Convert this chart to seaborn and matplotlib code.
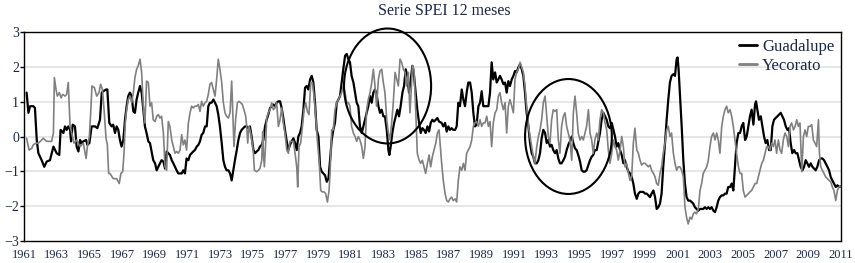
import matplotlib
matplotlib.use("Agg")
import matplotlib.pyplot as plt
from matplotlib.patches import Ellipse
import seaborn as sns
import pandas as pd

# ---------------- data ----------------
guad_year = [
    1961.16,1961.27,1961.37,1961.57,1961.67,1961.78,1961.88,1962.08,1962.24,1962.39,
    1962.59,1962.80,1963.00,1963.16,1963.24,1963.41,1963.51,1963.61,1963.71,1963.82,
    1963.88,1963.98,1964.12,1964.22,1964.33,1964.43,1964.53,1964.63,1964.80,1964.88,
    1965.00,1965.14,1965.35,1965.49,1965.65,1965.76,1965.86,1966.02,1966.10,1966.22,
    1966.36,1966.46,1966.57,1966.67,1966.77,1966.87,1966.97,1967.08,1967.18,1967.28,
    1967.38,1967.48,1967.59,1967.69,1967.79,1967.89,1967.99,1968.10,1968.20,1968.30,
    1968.40,1968.50,1968.61,1968.71,1968.81,1968.91,1969.02,1969.12,1969.22,1969.32,
    1969.42,1969.53,1969.63,1969.73,1969.83,1969.93,1970.04,1970.14,1970.24,1970.34,
    1970.44,1970.55,1970.65,1970.75,1970.85,1970.95,1971.06,1971.16,1971.26,1971.36,
    1971.46,1971.57,1971.67,1971.77,1971.87,1971.97,1972.08,1972.18,1972.28,1972.38,
    1972.48,1972.59,1972.69,1972.79,1972.89,1972.99,
    1973.10,1973.20,1973.30,1973.40,1973.51,1973.61,1973.71,1973.81,1973.91,1974.02,
    1974.12,1974.22,1974.32,1974.42,1974.53,1974.63,1974.73,1974.83,1974.93,1975.04,
    1975.14,1975.24,1975.34,1975.44,1975.55,1975.65,1975.75,1975.85,1975.95,1976.06,
    1976.16,1976.26,1976.36,1976.46,1976.57,1976.67,1976.77,1976.87,1976.97,1977.08,
    1977.18,1977.28,1977.38,1977.49,1977.59,1977.69,1977.79,1977.89,1977.99,1978.10,
    1978.20,1978.30,1978.40,1978.51,1978.61,1978.71,1978.81,1978.91,1979.02,1979.12,
    1979.22,1979.32,1979.42,1979.53,1979.63,1979.73,
    1979.83,1979.93,1980.03,1980.14,1980.24,1980.34,1980.44,1980.54,1980.65,1980.75,
    1980.85,1980.95,1981.05,1981.16,1981.26,1981.36,1981.46,1981.56,1981.67,1981.77,
    1981.87,1981.97,1982.07,1982.18,1982.28,1982.38,1982.48,1982.58,1982.69,1982.79,
    1982.89,1982.99,1983.09,1983.20,1983.30,1983.36,1983.44,1983.54,1983.65,1983.75,
    1983.85,1983.95,1984.05,1984.16,1984.26,1984.36,1984.46,1984.56,1984.67,1984.77,
    1984.87,1984.97,1985.07,1985.18,1985.28,1985.38,1985.48,1985.58,1985.69,1985.79,
    1985.89,1985.99,1986.09,1986.20,1986.30,1986.40,
    1986.56,1986.66,1986.77,1986.87,1986.97,1987.07,1987.17,1987.27,1987.38,1987.48,
    1987.58,1987.68,1987.79,1987.89,1987.99,1988.09,1988.19,1988.30,1988.40,1988.50,
    1988.60,1988.70,1988.81,1988.91,1989.01,1989.11,1989.21,1989.32,1989.42,1989.52,
    1989.62,1989.72,1989.83,1989.93,1990.03,1990.13,1990.23,1990.34,1990.44,1990.54,
    1990.64,1990.74,1990.85,1990.95,1991.05,1991.15,1991.25,1991.36,1991.46,1991.56,
    1991.66,1991.76,1991.87,1991.97,1992.07,1992.17,1992.27,1992.38,1992.48,1992.58,
    1992.68,1992.78,1992.89,1992.99,1993.09,1993.19,
    1993.29,1993.39,1993.50,1993.60,1993.70,1993.80,1993.90,1994.01,1994.11,1994.21,
    1994.31,1994.41,1994.52,1994.62,1994.72,1994.82,1994.92,1995.03,1995.13,1995.23,
    1995.33,1995.43,1995.54,1995.64,1995.74,1995.84,1995.94,1996.05,1996.15,1996.25,
    1996.35,1996.46,1996.56,1996.66,1996.76,1996.86,1996.97,1997.07,1997.17,1997.27,
    1997.37,1997.48,1997.58,1997.68,1997.78,1997.88,1997.99,1998.09,1998.19,1998.29,
    1998.39,1998.50,1998.60,1998.70,1998.80,1998.90,1999.01,1999.11,1999.21,1999.31,
    1999.41,1999.52,1999.62,1999.72,1999.82,1999.92,
    2000.02,2000.12,2000.23,2000.33,2000.43,2000.53,2000.63,2000.74,2000.84,2000.94,
    2001.00,2001.06,2001.14,2001.25,2001.35,2001.45,2001.55,2001.65,2001.76,2001.86,
    2001.96,2002.06,2002.16,2002.27,2002.37,2002.47,2002.57,2002.67,2002.78,2002.88,
    2002.98,2003.08,2003.19,2003.29,2003.39,2003.49,2003.59,2003.70,2003.80,2003.90,
    2004.00,2004.10,2004.21,2004.31,2004.41,2004.51,2004.61,2004.72,2004.82,
    2004.92,2005.02,2005.13,2005.23,2005.33,2005.43,2005.53,2005.64,2005.74,2005.80,
    2005.88,2005.98,2006.09,2006.19,2006.29,2006.39,2006.49,2006.60,2006.70,2006.80,
    2006.90,2007.00,2007.11,2007.21,2007.31,2007.41,2007.51,2007.62,2007.72,2007.82,
    2007.92,2008.02,2008.13,2008.23,2008.33,2008.43,2008.53,2008.64,2008.74,2008.84,
    2008.94,2009.04,2009.15,2009.25,2009.35,2009.45,2009.55,2009.66,2009.76,2009.86,
    2009.96,2010.06,2010.17,2010.27,2010.37,2010.47,2010.57,2010.68,2010.78,2010.88,
    2010.98,
]
guad_spei = [
    1.26,0.68,0.87,0.87,0.82,-0.10,-0.48,-0.68,-0.87,-0.72,
    -0.68,-0.29,-0.48,-0.53,0.19,0.10,0.29,0.19,0.29,0.19,
    -0.14,0.34,0.29,-0.29,-0.43,-0.10,-0.19,-0.14,-0.10,-0.24,
    -0.19,0.29,0.29,0.24,0.48,1.26,1.30,1.35,1.35,0.39,
    0.29,0.34,0.10,0.29,0.19,-0.10,-0.29,-0.10,0.48,0.87,
    1.16,1.26,1.16,0.72,0.68,1.06,1.26,1.45,1.26,0.77,
    0.29,0.10,-0.14,-0.19,-0.43,-0.68,-0.77,-0.97,-0.87,-0.77,
    -0.68,-0.72,-0.92,-0.43,-0.48,-0.53,-0.68,-0.77,-0.87,-0.97,
    -1.06,-1.06,-1.06,-0.97,-1.06,-0.63,-0.68,-0.53,-0.48,-0.43,
    -0.39,-0.29,-0.24,-0.14,0.05,0.10,0.29,0.29,0.87,0.97,
    0.97,1.06,0.97,0.87,0.63,0.29,
    -0.19,-0.68,-0.87,-0.97,-0.97,-1.06,-1.26,-0.97,-0.68,-0.39,
    -0.10,0.10,0.19,0.24,0.29,0.29,0.24,0.29,0.00,-0.39,
    -0.48,-0.43,-0.39,-0.29,-0.24,-0.10,0.29,0.48,0.63,0.82,
    0.87,0.92,0.87,0.97,1.01,1.01,0.82,0.53,0.19,-0.14,
    -0.39,-0.24,-0.14,-0.05,-0.19,-0.39,0.00,0.10,0.29,0.77,
    1.40,1.45,1.35,1.64,1.74,1.55,0.97,0.19,0.00,-0.87,
    -1.01,-1.06,-1.11,-1.30,-1.21,-0.68,
    -0.10,0.19,0.39,0.97,1.06,1.16,1.55,1.93,2.32,2.37,
    2.22,2.13,1.74,1.55,1.26,0.97,0.87,0.29,0.10,0.29,
    0.48,0.68,0.87,1.16,0.97,1.26,1.35,1.21,0.87,0.68,
    0.77,0.58,0.58,0.19,-0.39,-0.53,-0.29,0.10,0.39,0.58,
    0.77,0.58,0.87,1.26,1.45,1.93,1.74,1.26,1.64,2.03,
    1.74,1.26,0.77,0.39,0.10,0.24,0.19,0.10,0.29,0.14,
    0.39,0.48,0.43,0.48,0.53,0.43,
    0.39,0.29,0.39,0.14,0.29,0.19,0.24,0.19,0.19,0.29,
    0.97,0.87,1.35,1.06,0.87,1.26,1.55,1.55,1.26,0.68,
    0.29,0.34,0.87,0.97,1.30,0.87,0.87,0.87,0.87,1.26,
    2.13,1.64,1.84,1.55,1.64,1.74,1.64,1.50,1.55,1.26,
    1.59,1.45,1.64,1.74,1.88,1.84,1.98,2.08,1.93,1.74,
    1.26,0.68,0.29,-0.19,-0.48,-0.58,-0.77,-0.77,-0.68,-0.48,
    -0.05,0.19,0.10,-0.19,-0.10,-0.29,
    -0.24,-0.39,-0.48,-0.39,-0.63,-0.77,-0.77,-0.68,-0.58,-0.39,
    -0.24,-0.14,0.00,-0.19,-0.34,-0.39,-0.53,-0.72,-0.97,-1.01,
    -1.01,-0.97,-0.82,-0.68,-0.58,-0.53,-0.39,-0.39,-0.14,0.10,
    0.48,0.68,0.58,0.48,0.29,0.24,0.39,0.19,0.00,-0.29,
    -0.19,-0.39,-0.53,-0.77,-0.68,-0.87,-1.01,-1.06,-1.16,-1.35,
    -1.64,-1.79,-1.64,-1.59,-1.59,-1.59,-1.64,-1.64,-1.69,-1.74,
    -1.64,-1.55,-1.74,-2.08,-2.03,-1.93,
    -1.64,-0.87,-0.19,0.48,1.06,1.55,1.74,1.79,1.74,2.22,
    2.27,1.93,1.26,0.29,-0.68,-1.35,-1.74,-1.84,-1.84,-1.88,
    -1.93,-2.03,-2.08,-2.13,-2.08,-2.08,-2.08,-2.03,-2.08,-2.03,
    -2.08,-2.03,-2.13,-2.17,-2.03,-1.84,-1.74,-1.69,-1.69,-1.64,
    -1.64,-1.45,-1.45,-1.35,-1.55,-0.87,-0.19,0.10,0.10,
    0.29,0.39,-0.10,0.00,0.29,0.58,0.77,0.34,0.92,1.01,
    0.77,0.48,0.58,0.29,0.00,-0.19,-0.10,-0.39,-0.39,0.29,
    0.48,0.53,0.58,0.63,0.68,0.58,0.48,0.29,0.19,0.24,
    -0.19,-0.48,-0.39,-0.48,-0.48,-0.68,-0.87,-0.97,-0.87,-0.68,
    -0.77,-0.87,-0.77,-0.87,-0.92,-0.97,-0.87,-0.68,-0.63,-0.63,
    -0.68,-0.77,-0.87,-0.97,-1.16,-1.26,-1.35,-1.45,-1.40,-1.45,
    -1.43,
]

yeco_year = [
    1961.16,1961.31,1961.47,1961.57,1961.73,1961.88,1962.08,1962.18,1962.39,1962.55,
    1962.69,1962.80,1962.86,1962.96,1963.04,1963.16,1963.27,1963.37,1963.51,1963.61,
    1963.71,1963.82,1963.92,1964.06,1964.22,1964.43,1964.63,1964.80,1964.88,1965.00,
    1965.08,1965.16,1965.31,1965.45,1965.59,1965.69,1965.80,1965.90,1966.02,1966.10,
    1966.18,
    1966.26,1966.46,1966.67,1966.83,1966.93,1967.04,1967.12,1967.20,
    1967.28,1967.38,1967.48,1967.59,1967.69,1967.79,1967.89,1967.99,1968.10,1968.20,
    1968.30,1968.40,1968.50,1968.61,1968.71,1968.81,1968.91,1969.02,1969.12,1969.22,
    1969.32,1969.42,1969.53,1969.63,1969.73,1969.83,1969.93,1970.04,1970.14,1970.24,
    1970.34,1970.44,1970.55,1970.65,1970.75,1970.85,1970.95,1971.06,1971.16,1971.26,
    1971.36,1971.46,1971.57,1971.67,1971.77,1971.87,1971.97,1972.08,1972.18,1972.28,
    1972.38,1972.48,1972.59,1972.69,1972.79,1972.89,1972.99,
    1973.10,1973.20,1973.30,1973.40,1973.51,1973.61,1973.71,1973.77,1973.85,1973.95,
    1974.06,1974.16,1974.26,1974.36,1974.46,1974.57,1974.63,1974.69,1974.77,1974.87,
    1974.97,1975.04,1975.10,1975.24,1975.34,1975.44,1975.55,1975.61,1975.65,1975.71,
    1975.79,1975.85,1975.95,1976.06,1976.16,1976.26,1976.36,1976.46,1976.57,1976.67,
    1976.77,1976.87,1976.97,1977.08,1977.18,1977.28,1977.38,1977.49,1977.59,1977.69,
    1977.75,1977.83,1977.93,1978.04,1978.14,1978.24,1978.34,1978.44,1978.55,1978.65,
    1978.75,1978.85,1978.95,1979.06,1979.16,1979.26,1979.36,1979.46,1979.57,1979.67,
    1979.73,
    1979.83,1979.93,1980.03,1980.14,1980.24,1980.34,1980.44,1980.54,1980.65,1980.75,
    1980.85,1980.95,1981.05,1981.16,1981.26,1981.36,1981.46,1981.56,1981.67,1981.77,
    1981.87,1981.97,1982.07,1982.18,1982.28,1982.38,1982.48,1982.58,1982.69,1982.79,
    1982.89,1982.99,1983.09,1983.20,1983.30,1983.40,1983.50,1983.60,1983.71,1983.81,
    1983.91,1984.01,1984.11,1984.22,1984.32,1984.42,1984.52,1984.62,1984.69,1984.77,
    1984.87,1984.97,1985.07,1985.18,1985.28,1985.38,1985.48,1985.58,1985.69,1985.79,
    1985.89,1985.99,1986.09,1986.20,1986.30,1986.40,
    1986.56,1986.66,1986.77,1986.87,1986.97,1987.07,1987.17,1987.27,1987.38,1987.48,
    1987.58,1987.68,1987.79,1987.89,1987.99,1988.09,1988.19,1988.30,1988.40,1988.50,
    1988.60,1988.70,1988.81,1988.91,1989.01,1989.11,1989.21,1989.32,1989.42,1989.52,
    1989.62,1989.72,1989.83,1989.93,1990.03,1990.13,1990.23,1990.34,1990.44,1990.54,
    1990.64,1990.74,1990.85,1990.95,1991.05,1991.15,1991.25,1991.36,1991.46,1991.56,
    1991.66,1991.76,1991.87,1991.97,1992.07,1992.17,1992.27,1992.38,1992.48,1992.58,
    1992.68,1992.78,1992.89,1992.99,1993.09,1993.19,
    1993.29,1993.39,1993.50,1993.60,1993.70,1993.80,1993.90,1994.01,1994.11,1994.21,
    1994.31,1994.41,1994.52,1994.62,1994.72,1994.82,1994.92,1995.03,1995.13,1995.23,
    1995.33,1995.43,1995.54,1995.64,1995.74,1995.84,1995.94,1996.05,1996.15,1996.25,
    1996.35,1996.46,1996.56,1996.66,1996.76,1996.86,1996.97,1997.07,1997.17,1997.27,
    1997.37,1997.48,1997.58,1997.68,1997.78,1997.88,1997.99,1998.09,1998.19,1998.29,
    1998.39,1998.50,1998.60,1998.70,1998.80,1998.90,1999.01,1999.11,1999.21,1999.31,
    1999.41,1999.52,1999.62,1999.72,1999.82,1999.92,
    2000.02,2000.12,2000.23,2000.33,2000.43,2000.53,2000.63,2000.74,2000.84,2000.94,
    2001.04,2001.14,2001.25,2001.35,2001.45,2001.55,2001.65,2001.76,2001.86,2001.96,
    2002.06,2002.16,2002.27,2002.37,2002.47,2002.57,2002.67,2002.78,2002.88,2002.98,
    2003.08,2003.19,2003.29,2003.39,2003.49,2003.59,2003.70,2003.80,2003.90,2004.00,
    2004.10,2004.21,2004.31,2004.41,2004.51,2004.61,2004.72,2004.82,
    2004.92,2005.02,2005.13,2005.23,2005.33,2005.43,2005.53,2005.64,2005.74,2005.84,
    2005.94,2006.04,2006.15,2006.25,2006.35,2006.45,2006.55,2006.66,2006.76,2006.86,
    2006.96,2007.06,2007.17,2007.27,2007.37,2007.47,2007.57,2007.68,2007.78,2007.88,
    2007.98,2008.09,2008.19,2008.29,2008.39,2008.49,2008.60,2008.70,2008.80,2008.90,
    2009.00,2009.11,2009.21,2009.31,2009.41,2009.51,2009.62,2009.68,2009.76,2009.86,
    2009.96,2010.06,2010.17,2010.27,2010.37,2010.47,2010.57,2010.68,2010.78,2010.88,
    2010.98,
]
yeco_spei = [
    -0.05,-0.39,-0.34,-0.24,-0.19,-0.19,-0.10,-0.05,-0.14,-0.14,
    -0.14,0.10,1.69,1.35,1.16,1.26,1.11,1.21,1.16,1.21,
    1.55,0.29,0.10,-0.19,-0.10,-0.29,-0.19,-0.63,-0.29,0.00,
    0.68,1.45,1.40,1.16,1.26,1.50,1.35,0.77,-0.05,-0.24,
    -1.06,
    -1.06,-1.21,-1.21,-1.35,-1.06,-1.01,-0.48,0.39,
    0.77,1.06,1.16,0.97,1.26,1.69,1.93,2.03,2.22,1.84,
    0.87,0.39,1.59,1.55,0.87,0.97,0.48,0.43,0.58,0.63,
    0.53,0.58,0.10,-0.87,-0.97,0.43,0.29,-0.10,-0.29,-0.48,
    -0.43,-0.48,-0.39,0.05,-0.24,-0.10,-0.39,0.39,0.68,0.87,
    0.82,0.87,0.87,0.92,0.72,1.01,0.87,0.97,1.01,1.21,
    1.50,1.55,1.35,1.16,1.64,2.22,1.93,
    1.55,0.97,0.68,0.58,0.53,0.68,1.59,0.77,-0.29,0.48,
    0.97,1.01,0.97,0.92,0.77,0.58,0.29,-0.19,0.29,0.10,
    -0.19,-0.48,-0.97,-1.01,-0.97,-0.92,-0.68,0.14,-0.48,-0.87,
    -0.19,0.53,0.68,0.77,0.97,0.77,0.82,0.97,0.29,0.48,
    0.82,0.39,0.10,-0.39,-0.48,-0.14,-0.14,-0.14,-0.48,-0.87,
    -1.45,-0.29,-0.19,0.29,0.77,0.97,0.72,0.63,1.55,1.55,
    1.16,0.58,-0.10,-0.68,-1.55,-1.59,-1.59,-1.64,-1.88,-1.55,
    -1.06,
    0.19,0.19,0.77,0.97,1.06,1.16,1.26,1.45,1.26,0.97,
    0.97,0.87,0.29,0.10,0.00,-0.14,0.00,-0.10,-0.29,-0.63,
    -0.29,0.77,1.06,1.26,1.55,1.93,1.45,0.87,1.64,1.88,
    1.93,1.55,1.26,0.48,0.10,-0.10,0.39,0.97,1.84,1.64,
    1.45,2.22,2.13,1.93,1.84,1.45,1.84,0.68,1.26,2.03,
    1.93,0.77,-0.48,-0.68,-0.77,-0.68,-0.87,-1.06,-0.77,-0.53,
    -0.87,-0.58,-0.39,-0.19,0.10,0.19,
    -0.77,-1.26,-1.64,-1.84,-1.88,-1.79,-1.74,-1.84,-1.79,-1.88,
    -1.26,-0.87,-0.97,-0.77,-0.97,-0.48,-0.39,-0.29,-0.10,0.29,
    0.39,0.43,0.29,0.48,0.29,0.39,0.39,0.58,0.29,0.43,
    -0.29,0.39,0.68,0.77,1.16,1.26,0.97,0.77,0.97,0.10,
    0.87,1.06,0.87,0.68,1.64,1.84,1.93,2.13,1.98,1.84,
    1.45,0.87,0.29,0.00,-0.29,-0.58,-0.77,-0.29,0.00,0.19,
    0.48,0.97,1.16,0.58,0.00,-0.19,
    0.48,0.77,0.72,0.77,-0.10,-0.48,0.29,0.58,0.68,0.29,
    0.10,-0.10,-0.68,0.68,1.16,0.68,0.10,-0.10,0.00,-0.10,
    0.10,0.29,0.77,0.10,-0.10,-0.48,-0.10,0.10,-0.10,0.48,
    0.77,0.68,0.39,0.19,-0.39,-0.77,-0.48,-0.10,-0.29,-0.39,
    -0.68,-0.39,0.00,-0.29,-0.87,-0.77,-1.06,-1.26,-1.16,-0.19,
    0.24,-0.39,-0.48,-0.68,-0.82,-0.77,-0.77,-0.82,-0.87,-0.82,
    -0.97,-1.06,-1.16,-1.35,-1.40,-1.06,
    -0.87,-0.48,-0.19,0.19,0.29,0.00,0.10,-0.48,-0.77,-0.97,
    -0.87,-0.87,-0.97,-1.16,-2.03,-2.32,-2.51,-2.32,-2.37,-2.22,
    -2.17,-2.22,-2.08,-1.55,-1.35,-1.06,-0.97,-0.87,-0.68,-0.29,
    0.00,0.10,-0.10,0.10,-0.10,-0.48,0.29,0.58,0.77,0.87,
    0.68,0.77,0.58,0.29,-0.10,-0.48,-0.87,-1.06,
    -1.06,-1.55,-1.74,-1.69,-1.64,-1.59,-1.55,-1.45,-1.35,-1.35,
    -1.16,-0.97,-0.77,-0.68,-0.48,-0.29,-0.29,-0.39,-0.19,-0.29,
    -0.10,-0.48,-0.10,-0.39,-0.48,-0.10,0.10,0.00,-0.29,0.29,
    0.39,0.19,0.29,0.48,0.29,0.39,-1.01,0.00,0.19,0.00,
    0.29,0.29,0.34,-0.10,-0.19,-0.29,0.48,-0.48,-0.87,-0.97,
    -1.06,-1.16,-1.21,-1.26,-1.30,-1.45,-1.55,-1.84,-1.55,-1.45,
    -1.43,
]

stations = ["Guadalupe", "Yecorato"]
year_ticks = list(range(1961, 2012, 2))
y_ticks = [-3, -2, -1, 0, 1, 2, 3]
# highlighted periods (centre year, centre SPEI, width in years, height in SPEI)
highlights = [(1983.25, 1.45, 5.33, 3.30), (1994.32, 0.00, 5.31, 3.30)]
title = "Serie SPEI 12 meses"

# ---------------- styling ----------------
sns.set_theme(style="white")
plt.rcParams["font.family"] = ["Liberation Serif", "DejaVu Serif"]
TXT = "#1c2848"

df = pd.concat([
    pd.DataFrame({"year": guad_year, "spei": guad_spei, "station": stations[0]}),
    pd.DataFrame({"year": yeco_year, "spei": yeco_spei, "station": stations[1]}),
], ignore_index=True)

fig = plt.figure(figsize=(8.55, 2.63), dpi=100)
ax = fig.add_axes([24 / 855, 22 / 263, 817 / 855, 209 / 263])

for y in y_ticks[1:-1]:
    ax.axhline(y, color="#e6e6e6", lw=1.4, zorder=0)

styles = {"Guadalupe": dict(color="black", lw=1.6),
          "Yecorato": dict(color="#808080", lw=1.2)}
for st in stations:
    sub = df[df["station"] == st]
    sns.lineplot(data=sub, x="year", y="spei", ax=ax, label=st,
                 sort=False, estimator=None, **styles[st])

for cx, cy, w, h in highlights:
    ax.add_patch(Ellipse((cx, cy), w, h, fill=False, ec="black", lw=1.5,
                         clip_on=False, zorder=5))

ax.set_xlim(1961, 2011)
ax.set_ylim(-3, 3)
ax.set_xticks(year_ticks)
ax.set_xticklabels([str(y) for y in year_ticks])
ax.set_yticks(y_ticks)
ax.set_yticklabels([f"\u2212{abs(v)}" if v < 0 else str(v) for v in y_ticks])
ax.set_xlabel("")
ax.set_ylabel("")
ax.tick_params(axis="x", length=0, pad=6, labelsize=9, labelcolor=TXT)
ax.tick_params(axis="y", left=True, length=3, width=1, pad=0.5, labelsize=10,
               labelcolor=TXT, color="black")
for s in ax.spines.values():
    s.set_visible(True)
    s.set_color("black")
    s.set_linewidth(1.0)
ax.grid(False)

leg = ax.legend(loc="upper right", frameon=False, fontsize=12,
                handlelength=1.1, handletextpad=0.3, labelspacing=0.2,
                borderaxespad=0.2, borderpad=0.2)
for t in leg.get_texts():
    t.set_color(TXT)
for h in leg.get_lines():
    h.set_linewidth(2.0)

fig.text(444 / 855, 1 - 11 / 263, title, ha="center", va="center",
         fontsize=11.5, color=TXT)

fig.savefig("out.png", dpi=100)
